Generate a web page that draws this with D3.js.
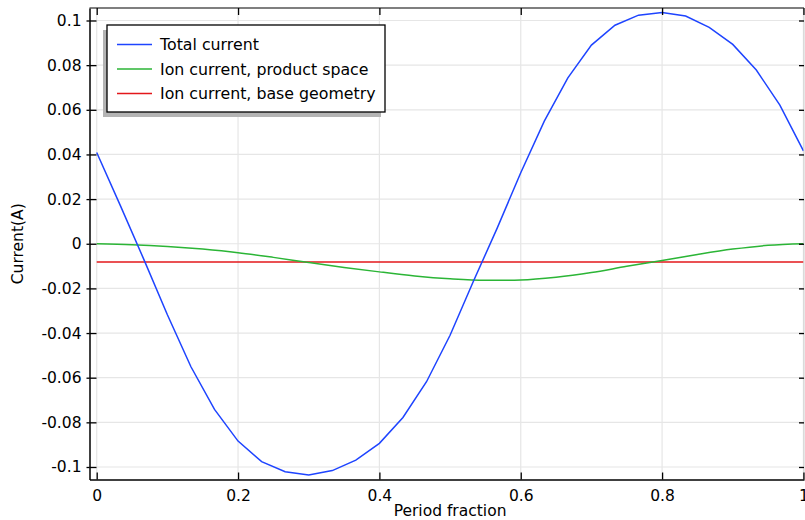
<!DOCTYPE html>
<html>
<head>
<meta charset="utf-8">
<script src="https://cdn.jsdelivr.net/npm/d3@7"></script>
<style>
  html, body { margin: 0; padding: 0; background: #fff; }
  svg { display: block; font-family: "DejaVu Sans", sans-serif; }
</style>
</head>
<body>
<svg id="chart" width="805" height="520"></svg>
<script>
// Period fraction samples for the total current (31 evenly spaced solution points)
const totalX = d3.range(31).map(i => i / 30);
const totalCurrent = [
  0.0409, 0.0172, -0.0070, -0.0318, -0.0551, -0.0742, -0.0884, -0.0976,
  -0.1021, -0.1036, -0.1016, -0.0969, -0.0894, -0.0778, -0.0618, -0.0410,
  -0.0166, 0.0070, 0.0318, 0.0549, 0.0743, 0.0890, 0.0979, 0.1024,
  0.1036, 0.1020, 0.0969, 0.0893, 0.0778, 0.0621, 0.0416
];

// Ion current integrated over the product space
const ionProductX = [0, 0.05, 0.1, 0.15, 0.2, 0.25, 0.3, 0.35, 0.4, 0.45, 0.5,
  0.55, 0.6, 0.65, 0.7, 0.75, 0.8, 0.85, 0.9, 0.95, 1.0];
const ionProduct = [0, -0.0004, -0.0012, -0.0024, -0.0040, -0.0061, -0.0084,
  -0.0106, -0.0126, -0.0144, -0.0157, -0.0164, -0.0162, -0.0150, -0.0129,
  -0.0101, -0.0075, -0.0048, -0.0024, -0.0007, 0];

// Ion current in the base geometry (constant over the period)
const ionBaseX = [0, 1];
const ionBase = [-0.0082, -0.0082];

const xTicks = [0, 0.2, 0.4, 0.6, 0.8, 1];
const xTickLabels = ["0", "0.2", "0.4", "0.6", "0.8", "1"];
const yTicks = [0.1, 0.08, 0.06, 0.04, 0.02, 0, -0.02, -0.04, -0.06, -0.08, -0.1];
const yTickLabels = ["0.1", "0.08", "0.06", "0.04", "0.02", "0", "-0.02", "-0.04", "-0.06", "-0.08", "-0.1"];

const seriesNames = ["Total current", "Ion current, product space", "Ion current, base geometry"];
const seriesColors = ["#1e44ff", "#2bb536", "#e3171b"];

const svg = d3.select("#chart");
const frame = { left: 89.5, right: 804, top: 8, bottom: 479.5 };

const x = d3.scaleLinear().domain([-0.0102, 1.0008]).range([frame.left, frame.right]);
const y = d3.scaleLinear().domain([-0.1056, 0.1056]).range([frame.bottom, frame.top]);

// Grid
const grid = svg.append("g").attr("stroke", "#e6e6e6").attr("stroke-width", 1.2);
grid.selectAll("line.gx").data(xTicks).join("line")
  .attr("x1", d => x(d)).attr("x2", d => x(d))
  .attr("y1", frame.top).attr("y2", frame.bottom);
grid.selectAll("line.gy").data(yTicks).join("line")
  .attr("x1", frame.left).attr("x2", frame.right)
  .attr("y1", d => y(d)).attr("y2", d => y(d));

// Data lines
const line = d3.line().x(d => x(d[0])).y(d => y(d[1]));
const smooth = d3.line().x(d => x(d[0])).y(d => y(d[1])).curve(d3.curveMonotoneX);
const plot = svg.append("g").attr("fill", "none").attr("stroke-width", 1.5);
plot.append("path")
  .attr("d", smooth(ionBaseX.map((v, i) => [v, ionBase[i]])))
  .attr("stroke", seriesColors[2]);
plot.append("path")
  .attr("d", smooth(ionProductX.map((v, i) => [v, ionProduct[i]])))
  .attr("stroke", seriesColors[1]);
plot.append("path")
  .attr("d", line(totalX.map((v, i) => [v, totalCurrent[i]])))
  .attr("stroke", seriesColors[0]);

// Frame: top and right borders
svg.append("line").attr("x1", frame.left).attr("x2", frame.right)
  .attr("y1", frame.top).attr("y2", frame.top)
  .attr("stroke", "#555").attr("stroke-width", 1.5);
svg.append("line").attr("x1", frame.right).attr("x2", frame.right)
  .attr("y1", frame.top).attr("y2", frame.bottom)
  .attr("stroke", "#cfcfcf").attr("stroke-width", 1);

// Axes built with d3-axis, ticks pointing into the plot
const xAxis = d3.axisBottom(x).tickValues(xTicks)
  .tickFormat((d, i) => xTickLabels[i]).tickSize(-7).tickPadding(10).tickSizeOuter(0);
const yAxis = d3.axisLeft(y).tickValues(yTicks)
  .tickFormat((d, i) => yTickLabels[i]).tickSize(-7).tickPadding(8).tickSizeOuter(0);
const xTop = d3.axisTop(x).tickValues(xTicks).tickFormat("").tickSize(-7).tickSizeOuter(0);
const yRight = d3.axisRight(y).tickValues(yTicks).tickFormat("").tickSize(-5).tickSizeOuter(0);

function styleAxis(g) {
  g.select(".domain").attr("stroke", "#000").attr("stroke-width", 1.5);
  g.selectAll(".tick line").attr("stroke", "#000").attr("stroke-width", 1.3);
  g.selectAll(".tick text").attr("fill", "#000").attr("font-size", 15.5)
    .attr("font-family", "DejaVu Sans, sans-serif");
}

svg.append("g").attr("transform", `translate(0,${frame.top})`).call(xTop)
  .call(g => { g.select(".domain").remove(); g.selectAll(".tick line").attr("stroke", "#000").attr("stroke-width", 1.3); });
svg.append("g").attr("transform", `translate(${frame.right},0)`).call(yRight)
  .call(g => { g.select(".domain").remove(); g.selectAll(".tick line").attr("stroke", "#000").attr("stroke-width", 1.3); });

const gx = svg.append("g").attr("transform", `translate(0,${frame.bottom})`).call(xAxis).call(styleAxis);
const gy = svg.append("g").attr("transform", `translate(${frame.left},0)`).call(yAxis).call(styleAxis);
// short outward stubs on the left ticks
gy.selectAll(".tick").append("line").attr("x1", -3).attr("x2", 0)
  .attr("stroke", "#000").attr("stroke-width", 1.3);

// Axis titles
svg.append("text").attr("x", (x(0) + x(1)) / 2).attr("y", 516)
  .attr("text-anchor", "middle").attr("font-size", 15.5).text("Period fraction");
svg.append("text")
  .attr("transform", `translate(23,${y(0)}) rotate(-90)`)
  .attr("text-anchor", "middle").attr("font-size", 15.5).text("Current(A)");

// Legend with drop shadow
const legend = svg.append("g").attr("transform", "translate(107,25)");
const lw = 278, lh = 87;
legend.append("rect").attr("x", -4).attr("y", 5).attr("width", lw).attr("height", lh)
  .attr("fill", "#b4b4b4");
legend.append("rect").attr("x", 0).attr("y", 0).attr("width", lw).attr("height", lh)
  .attr("fill", "#fff").attr("stroke", "#000").attr("stroke-width", 1.3);
const items = legend.selectAll("g.item").data(seriesNames).join("g")
  .attr("transform", (d, i) => `translate(0,${19.5 + i * 24.5})`);
items.append("line").attr("x1", 10).attr("x2", 45).attr("y1", 0).attr("y2", 0)
  .attr("stroke", (d, i) => seriesColors[i]).attr("stroke-width", 1.5);
items.append("text").attr("x", 53).attr("y", 0).attr("dy", "0.35em")
  .attr("font-size", 15.8).text(d => d);
</script>
</body>
</html>
